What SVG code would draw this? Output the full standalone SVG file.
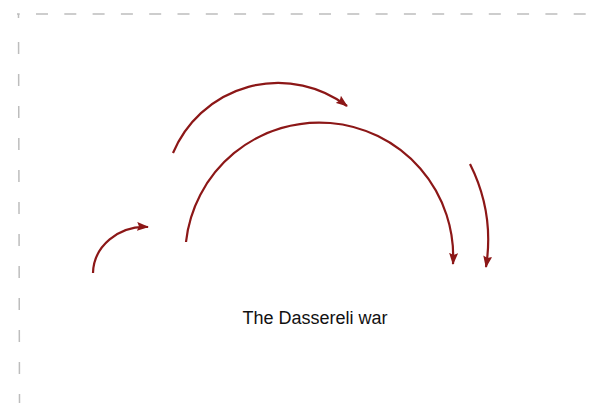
<svg xmlns="http://www.w3.org/2000/svg" width="601" height="403" viewBox="0 0 601 403">
<style>
.frame{stroke:#bdbdbd;stroke-width:1.5;fill:none}
.arc{fill:none;stroke:#8c1717;stroke-width:2.2;marker-end:url(#ah)}
.label{font-family:"Liberation Sans",Arial,sans-serif;font-size:18px;fill:#111}
</style>
<defs>
<marker id="ah" viewBox="0 0 12 9" refX="11" refY="4.5" markerWidth="12" markerHeight="9" markerUnits="userSpaceOnUse" orient="auto">
<path d="M0,0 L12,4.5 L0,9 L2,4.5 Z" fill="#8c1717"/>
</marker>
</defs>
<g id="frame">
<line class="frame" x1="17" y1="14" x2="601" y2="14" stroke-dasharray="12 16.3" stroke-dashoffset="-19"/>
<line class="frame" x1="18.5" y1="14" x2="19.5" y2="403" stroke-dasharray="4 24 12 20 12 20 12 20 12 20 12 20 12 20 12 20 12 20 12 20 12 20 12 20 12 20 12 20"/>
</g>
<g id="connectors">
<path class="arc" d="M93,273 A52,47 0 0 1 148,227"/>
<path class="arc" d="M173,153 A114,114 0 0 1 347,106"/>
<path class="arc" d="M186,242 A134,134 0 0 1 453,264"/>
<path class="arc" d="M470,164 A170,170 0 0 1 486,267"/>
</g>
<g id="node-dassereli">
<text class="label" x="315" y="324" text-anchor="middle">The Dassereli war</text>
</g>
</svg>
